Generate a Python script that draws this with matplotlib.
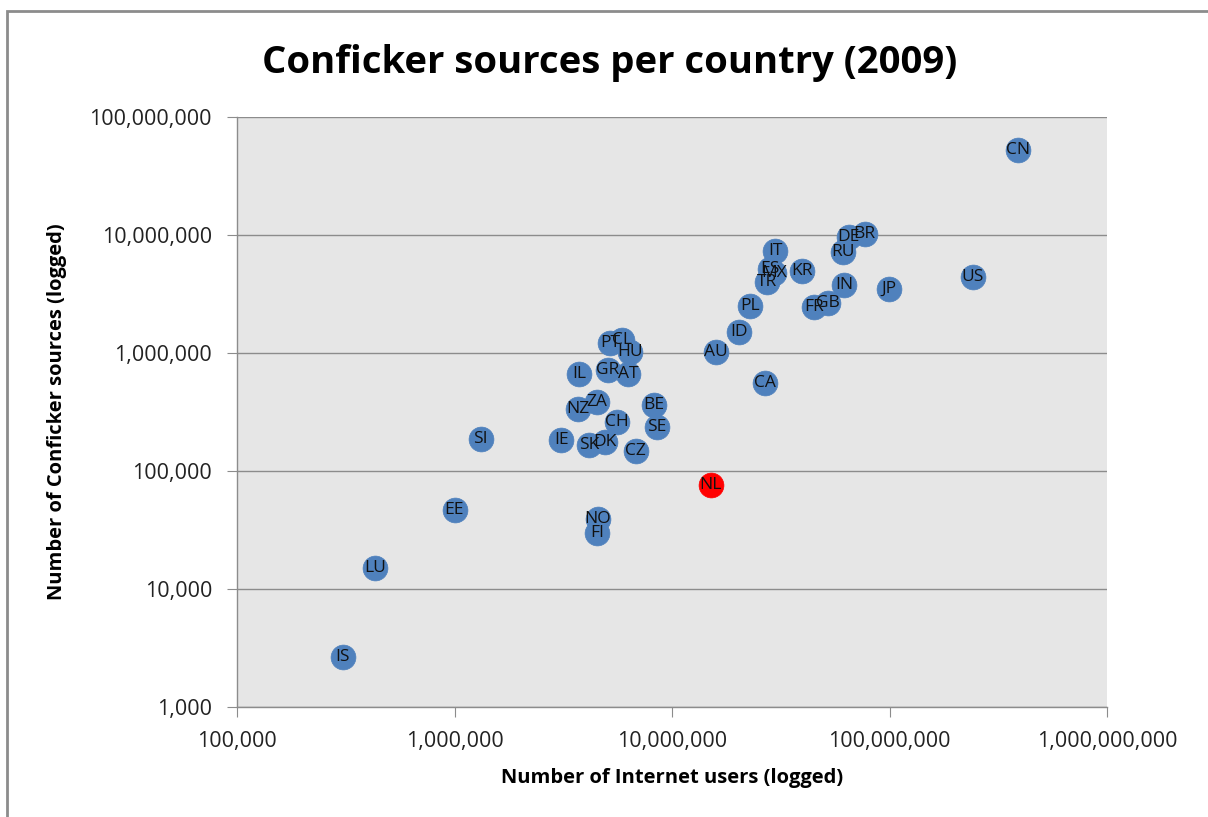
import matplotlib
matplotlib.use("Agg")
import matplotlib.pyplot as plt
from matplotlib.patches import Rectangle
from matplotlib.ticker import FixedLocator, FuncFormatter, NullLocator

plt.rcParams['font.family'] = ['Open Sans', 'DejaVu Sans']

# Country codes, internet users and Conficker sources (2009)
countries = ["CN", "US", "JP", "BR", "DE", "RU", "IN", "GB", "FR", "KR",
             "IT", "ES", "MX", "TR", "PL", "ID", "AU", "CA", "NL", "NO",
             "FI", "PT", "CL", "HU", "GR", "AT", "IL", "ZA", "NZ", "BE",
             "CH", "SE", "IE", "SK", "DK", "CZ", "SI", "EE", "LU", "IS"]
internet_users = [390e6, 242e6, 99.6e6, 77e6, 65e6, 61e6, 61.8e6, 52e6, 45e6, 39.6e6,
                  29.8e6, 28.2e6, 29.5e6, 27.4e6, 22.9e6, 20.3e6, 15.9e6, 26.8e6, 15.1e6, 4.57e6,
                  4.52e6, 5.19e6, 5.89e6, 6.41e6, 5.08e6, 6.28e6, 3.73e6, 4.52e6, 3.70e6, 8.26e6,
                  5.58e6, 8.53e6, 3.09e6, 4.15e6, 4.92e6, 6.82e6, 1.32e6, 1.0e6, 431e3, 307e3]
conficker_sources = [52.5e6, 4.4e6, 3.48e6, 10.2e6, 9.6e6, 7.2e6, 3.77e6, 2.65e6, 2.45e6, 4.95e6,
                     7.3e6, 5.15e6, 4.77e6, 4.0e6, 2.5e6, 1.51e6, 1.02e6, 557e3, 76e3, 39e3,
                     29.9e3, 1.22e6, 1.29e6, 1.02e6, 718e3, 664e3, 664e3, 385e3, 335e3, 362e3,
                     260e3, 236e3, 183e3, 166e3, 176e3, 148e3, 187e3, 46.7e3, 15e3, 2.65e3]
highlight = "NL"

x_ticks = [1e5, 1e6, 1e7, 1e8, 1e9]
y_ticks = [1e3, 1e4, 1e5, 1e6, 1e7, 1e8]

BLUE = "#4F81BD"
RED = "#FF0000"

fig = plt.figure(figsize=(12.08, 8.17), dpi=100)
fig.patch.set_facecolor("white")

# outer chart frame
fig.patches.append(Rectangle((7 / 1208, -0.05), 1.1, 1 - 11 / 817 + 0.05,
                             transform=fig.transFigure, fill=False,
                             edgecolor="#8C8C8C", linewidth=2.0, zorder=0))

ax = fig.add_axes([237 / 1208, 1 - 707 / 817, 870 / 1208, 590 / 817])
ax.set_facecolor("#E6E6E6")
ax.set_xscale("log")
ax.set_yscale("log")
ax.set_xlim(x_ticks[0], x_ticks[-1])
ax.set_ylim(y_ticks[0], y_ticks[-1])

ax.xaxis.set_major_locator(FixedLocator(x_ticks))
ax.yaxis.set_major_locator(FixedLocator(y_ticks))
ax.xaxis.set_minor_locator(NullLocator())
ax.yaxis.set_minor_locator(NullLocator())
fmt = FuncFormatter(lambda v, p: f"{int(round(v)):,}")
ax.xaxis.set_major_formatter(fmt)
ax.yaxis.set_major_formatter(fmt)

ax.grid(axis="y", color="#8C8C8C", linewidth=1.0)
ax.set_axisbelow(True)
for side in ("top", "right"):
    ax.spines[side].set_visible(False)
for side in ("left", "bottom"):
    ax.spines[side].set_color("#8C8C8C")
    ax.spines[side].set_linewidth(1.0)
ax.tick_params(axis="both", which="major", direction="out", length=7,
               color="#8C8C8C", labelsize=15.5, labelcolor="#222222")
ax.tick_params(axis="x", pad=10)
ax.tick_params(axis="y", pad=11)

for c, xv, yv in zip(countries, internet_users, conficker_sources):
    col = RED if c == highlight else BLUE
    ax.scatter([xv], [yv], s=320, color=col, edgecolors=col, linewidths=0.5, zorder=3)
    ax.text(xv, yv, c, ha="center", va="center", fontsize=12.5,
            color="#111111", zorder=4)

ax.set_xlabel("Number of Internet users (logged)", fontsize=14.5, fontweight="bold",
              labelpad=12)
ax.set_ylabel("Number of Conficker sources (logged)", fontsize=14.5, fontweight="bold",
              labelpad=16)
fig.text(610 / 1208, 1 - 63 / 817, "Conficker sources per country (2009)",
         ha="center", va="center", fontsize=27.5, fontweight="bold")

fig.savefig("out.png", dpi=100)
